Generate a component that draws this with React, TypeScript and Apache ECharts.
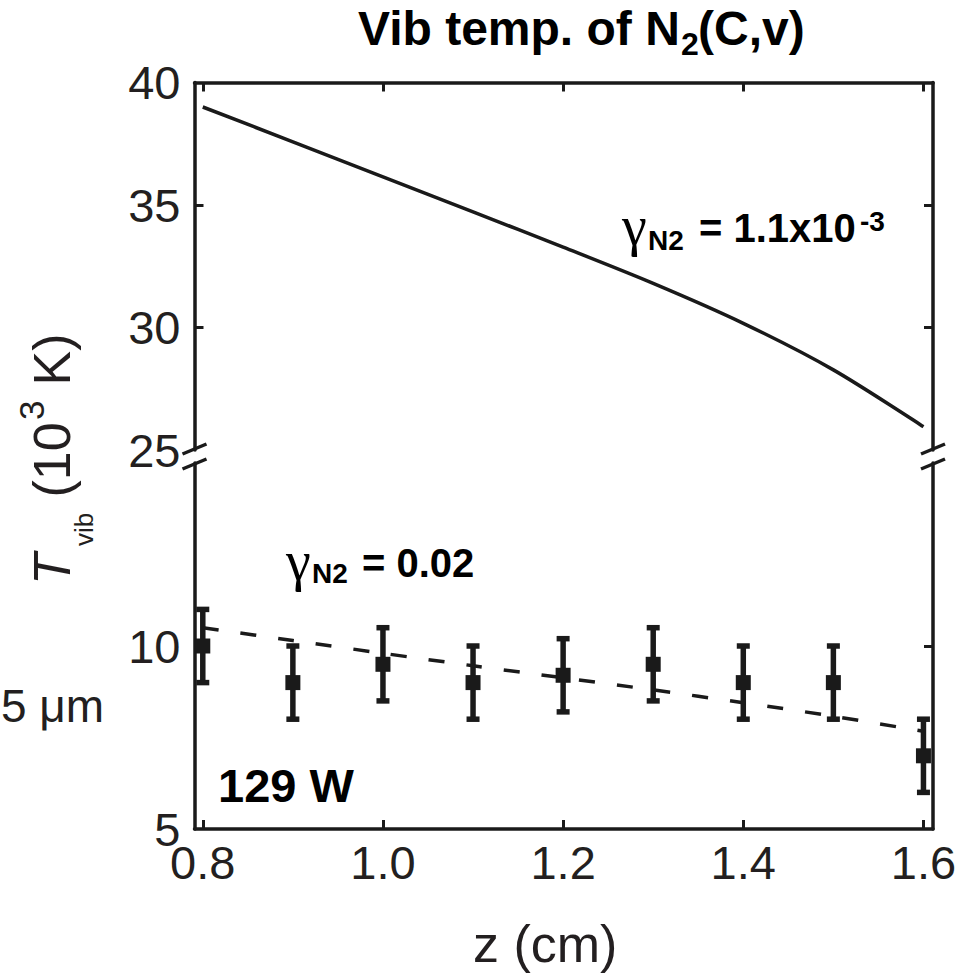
import React, { useEffect, useRef } from 'react';
import * as echarts from 'echarts';

// ---- data ----
const zPositions = [0.8, 0.9, 1.0, 1.1, 1.2, 1.3, 1.4, 1.5, 1.6];
const solidFitValues = [39.0, 37.58, 36.15, 34.72, 33.28, 31.8, 30.17, 28.27, 25.95];
const dashedFitValues = [10.5, 10.15, 9.8, 9.46, 9.13, 8.8, 8.45, 8.08, 7.67];
const measuredValues = [10.0, 9.0, 9.5, 9.0, 9.2, 9.5, 9.0, 9.0, 7.0];
const errorLow = [9.0, 8.0, 8.5, 8.0, 8.2, 8.5, 8.0, 8.0, 6.0];
const errorHigh = [11.0, 10.0, 10.5, 10.0, 10.2, 10.5, 10.0, 10.0, 8.0];
const xTickValues = [0.8, 1.0, 1.2, 1.4, 1.6];
const upperTickLabels = [25, 30, 35, 40];
const upperTickMarks = [30, 35];
const lowerTickLabels = [5, 10];
const lowerTickMarks = [10];

const SANS = '"Liberation Sans", Arial, Helvetica, sans-serif';
const SERIF = '"Liberation Serif", "Times New Roman", serif';
const INK = '#1a1a1a';
const LABEL = '#231f20';

const txt = (
  text: string,
  x: number,
  y: number,
  size: number,
  opts: { weight?: string; italic?: boolean; family?: string; rotation?: number; align?: string; color?: string } = {}
) => ({
  type: 'text',
  x,
  y,
  rotation: opts.rotation || 0,
  silent: true,
  z: 100,
  style: {
    text,
    fontSize: size,
    fontFamily: opts.family || SANS,
    fontWeight: opts.weight || 'normal',
    fontStyle: opts.italic ? 'italic' : 'normal',
    fill: opts.color || '#000',
    align: opts.align || 'left',
    textAlign: opts.align || 'left',
    verticalAlign: 'middle',
    textVerticalAlign: 'middle',
  },
});

const slash = (cx: number, cy: number) => ({
  type: 'line',
  silent: true,
  z: 100,
  shape: { x1: cx - 12, y1: cy + 5, x2: cx + 12, y2: cy - 5 },
  style: { stroke: INK, lineWidth: 3.5 },
});

export default function App() {
  const ref = useRef<HTMLDivElement>(null);

  useEffect(() => {
    if (!ref.current) return;
    const chart = echarts.init(ref.current, undefined, { renderer: 'svg' });

    const solidData = zPositions.map((z, i) => [z, solidFitValues[i]]);
    const dashedData = zPositions.map((z, i) => [z, dashedFitValues[i]]);
    const pointData = zPositions.map((z, i) => [z, measuredValues[i]]);
    const errData = zPositions.map((z, i) => [z, errorLow[i], errorHigh[i]]);

    const axisLine = { show: true, onZero: false, lineStyle: { color: INK, width: 3.5 } };
    const tickStyle = { color: INK, width: 3 };
    const xMin = 0.7908;
    const xMax = 1.6106;
    const labelStyle = { fontSize: 47, lineHeight: 32, fontFamily: SANS, color: LABEL };

    const option: any = {
      animation: false,
      backgroundColor: '#ffffff',
      grid: [
        { left: 194.5, right: 41, top: 82.5, height: 367.5, outerBoundsMode: 'none', containLabel: false },
        { left: 194.5, right: 41, top: 463, height: 366, outerBoundsMode: 'none', containLabel: false },
      ],
      xAxis: [
        {
          type: 'value', gridIndex: 0, position: 'top', min: xMin, max: xMax,
          axisLine,
          axisTick: { show: true, inside: true, length: 9, lineStyle: tickStyle, customValues: xTickValues },
          axisLabel: { show: false },
          splitLine: { show: false },
        },
        {
          type: 'value', gridIndex: 1, position: 'bottom', min: xMin, max: xMax,
          axisLine,
          axisTick: { show: true, inside: true, length: 9, lineStyle: tickStyle, customValues: xTickValues },
          axisLabel: {
            show: true, customValues: xTickValues, margin: 17,
            ...labelStyle,
            formatter: (v: number) => v.toFixed(1),
          },
          splitLine: { show: false },
        },
      ],
      yAxis: [
        {
          type: 'value', gridIndex: 0, position: 'left', min: 25, max: 40, interval: 5,
          axisLine,
          axisTick: { show: true, inside: true, length: 9, lineStyle: tickStyle, customValues: upperTickMarks },
          axisLabel: { show: true, customValues: upperTickLabels, margin: 14, ...labelStyle },
          splitLine: { show: false },
        },
        {
          type: 'value', gridIndex: 0, position: 'right', min: 25, max: 40, interval: 5,
          axisLine,
          axisTick: { show: true, inside: true, length: 9, lineStyle: tickStyle, customValues: upperTickMarks },
          axisLabel: { show: false },
          splitLine: { show: false },
        },
        {
          type: 'value', gridIndex: 1, position: 'left', min: 5, max: 15, interval: 5,
          axisLine,
          axisTick: { show: true, inside: true, length: 9, lineStyle: tickStyle, customValues: lowerTickMarks },
          axisLabel: { show: true, customValues: lowerTickLabels, margin: 14, ...labelStyle },
          splitLine: { show: false },
        },
        {
          type: 'value', gridIndex: 1, position: 'right', min: 5, max: 15, interval: 5,
          axisLine,
          axisTick: { show: true, inside: true, length: 9, lineStyle: tickStyle, customValues: lowerTickMarks },
          axisLabel: { show: false },
          splitLine: { show: false },
        },
      ],
      series: [
        {
          type: 'line', xAxisIndex: 0, yAxisIndex: 0, data: solidData,
          smooth: 0.3, showSymbol: false, symbol: 'none',
          lineStyle: { color: INK, width: 3.5 },
          silent: true,
        },
        {
          type: 'line', xAxisIndex: 1, yAxisIndex: 2, data: dashedData,
          smooth: 0.3, showSymbol: false, symbol: 'none',
          lineStyle: { color: INK, width: 3.5, type: [16, 22] },
          silent: true,
        },
        {
          type: 'custom', xAxisIndex: 1, yAxisIndex: 2, data: errData,
          encode: { x: 0, y: [1, 2] },
          clip: false,
          silent: true,
          renderItem: (params: any, api: any) => {
            const x = api.value(0);
            const lo = api.value(1);
            const hi = api.value(2);
            const pHi = api.coord([x, hi]);
            const pLo = api.coord([x, lo]);
            const hw = 6.5;
            const st = { stroke: INK, lineWidth: 5.5 };
            return {
              type: 'group',
              children: [
                { type: 'line', shape: { x1: pHi[0], y1: pHi[1], x2: pLo[0], y2: pLo[1] }, style: st },
                { type: 'line', shape: { x1: pHi[0] - hw, y1: pHi[1], x2: pHi[0] + hw, y2: pHi[1] }, style: st },
                { type: 'line', shape: { x1: pLo[0] - hw, y1: pLo[1], x2: pLo[0] + hw, y2: pLo[1] }, style: st },
              ],
            };
          },
        },
        {
          type: 'scatter', xAxisIndex: 1, yAxisIndex: 2, data: pointData,
          symbol: 'rect', symbolSize: 15, clip: false, silent: true,
          itemStyle: { color: INK, opacity: 1 },
        },
      ],
      graphic: [
        // axis break marks
        slash(194.5, 449), slash(194.5, 464),
        slash(933, 449), slash(933, 464),
        // title
        txt('Vib temp. of N', 358, 28.4, 48, { weight: 'bold' }),
        txt('2', 681, 44, 32, { weight: 'bold' }),
        txt('(C,v)', 698, 28.4, 48, { weight: 'bold' }),
        // upper annotation
        txt('γ', 622, 226, 56, { family: SERIF }),
        txt('N2', 648, 240.3, 28, { weight: 'bold' }),
        txt('= 1.1x10', 699, 228, 40, { weight: 'bold' }),
        txt('-3', 860, 221.7, 28, { weight: 'bold' }),
        // lower annotation
        txt('γ', 286, 561, 56, { family: SERIF }),
        txt('N2', 312, 573.3, 28, { weight: 'bold' }),
        txt('= 0.02', 362, 563, 40, { weight: 'bold' }),
        // power label
        txt('129 W', 218, 785.7, 47, { weight: 'bold' }),
        // scale text at the left edge
        txt('5 μm', 1, 706, 46, { color: LABEL }),
        // x axis name
        txt('z (cm)', 473, 944, 52, { color: LABEL }),
        // y axis name (rotated pieces)
        txt('T', 52, 585, 52, { italic: true, rotation: Math.PI / 2, color: LABEL }),
        txt('vib', 84, 546, 26, { rotation: Math.PI / 2, color: LABEL }),
        txt(' (10', 52, 512, 52, { rotation: Math.PI / 2, color: LABEL }),
        txt('3', 31, 420, 35, { rotation: Math.PI / 2, color: LABEL }),
        txt(' K)', 52, 400, 52, { rotation: Math.PI / 2, color: LABEL }),
      ],
    };

    chart.setOption(option);
    return () => chart.dispose();
  }, []);

  return (
    <div
      ref={ref}
      style={{ position: 'fixed', left: 0, top: 0, width: 974, height: 973, background: '#fff' }}
    />
  );
}
